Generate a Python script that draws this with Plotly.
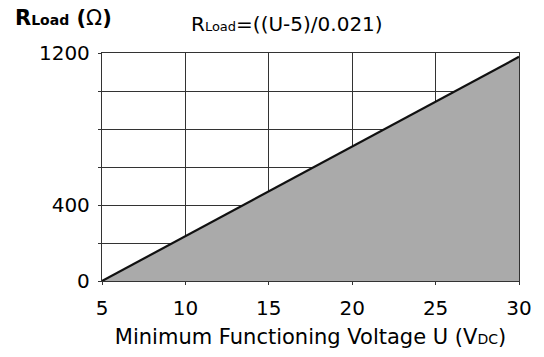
import plotly.graph_objects as go

# Data
voltage_u = [5, 30]
r_load = [0, 1180]
x_ticks = [5, 10, 15, 20, 25, 30]
y_grid = [0, 200, 400, 600, 800, 1000, 1200]
y_labels = ["0", "", "400", "", "", "", "1200"]

FONT = "DejaVu Sans"
GRID = "#333333"
SMALL = '<span style="font-size:14px">%s</span>'

fig = go.Figure()
fig.add_trace(go.Scatter(
    x=voltage_u, y=r_load, mode="lines",
    line=dict(color="#111111", width=2.2),
    fill="tozeroy", fillcolor="#aaaaaa",
    hoverinfo="skip", showlegend=False,
))

fig.update_layout(
    width=544, height=357,
    margin=dict(l=102, r=21, t=53, b=76),
    paper_bgcolor="white", plot_bgcolor="white",
    font=dict(family=FONT, size=20, color="black"),
    xaxis=dict(
        range=[5, 30], tickvals=x_ticks, ticktext=[str(v) for v in x_ticks],
        showgrid=True, gridcolor=GRID, gridwidth=1.3,
        showline=True, linecolor=GRID, linewidth=1.3, mirror=True,
        ticks="outside", ticklen=3, tickcolor=GRID,
        zeroline=False, layer="below traces",
        tickfont=dict(size=20), ticklabelstandoff=6,
        title=dict(text="Minimum Functioning Voltage U (V" + SMALL % "DC" + ")",
                   font=dict(size=21), standoff=10),
    ),
    yaxis=dict(
        range=[0, 1200], tickvals=y_grid, ticktext=y_labels,
        showgrid=True, gridcolor=GRID, gridwidth=1.3,
        showline=True, linecolor=GRID, linewidth=1.3, mirror=True,
        ticks="outside", ticklen=3, tickcolor=GRID,
        zeroline=False, tickfont=dict(size=20), ticklabelstandoff=4,
    ),
    annotations=[
        dict(text='<b>R<span style="font-size:14px">Load</span> (</b>Ω<b>)</b>',
             xref="paper", yref="paper",
             x=-0.214, y=1.154, xanchor="left", yanchor="middle",
             showarrow=False, font=dict(size=21)),
        dict(text="R" + '<span style="font-size:13px">Load</span>' + "=((U-5)/0.021)",
             xref="paper", yref="paper",
             x=0.209, y=1.127, xanchor="left", yanchor="middle",
             showarrow=False, font=dict(size=20)),
    ],
)

fig.write_html("out.html", config={"displayModeBar": False},
               post_script="document.body.style.margin='0';")
